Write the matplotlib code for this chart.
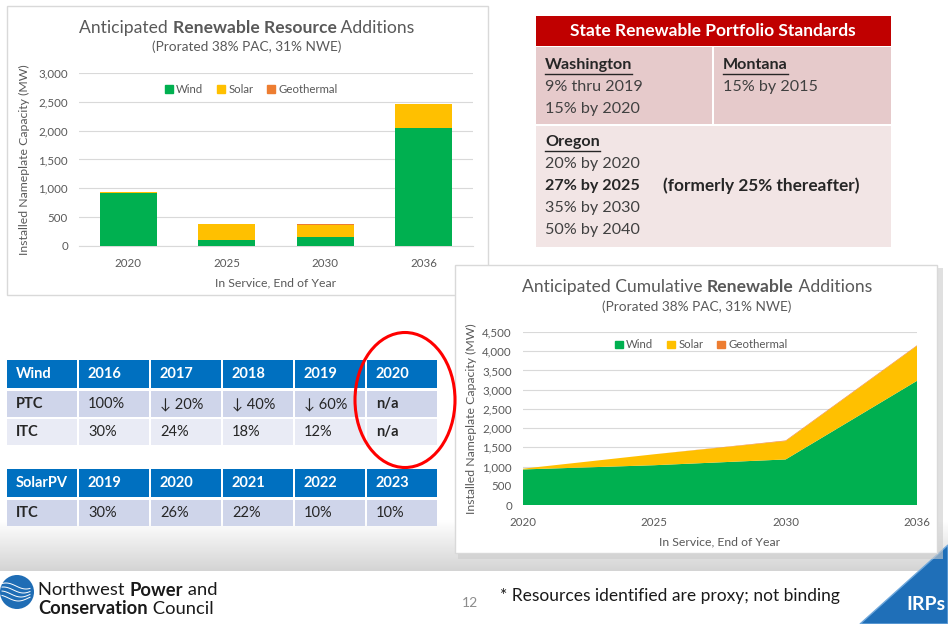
import numpy as np
import matplotlib
matplotlib.use("Agg")
import matplotlib.pyplot as plt
from matplotlib.patches import Rectangle, Ellipse, Polygon, Circle, Patch

# ---------------- data ----------------
years = ['2020', '2025', '2030', '2036']
wind_add = [925, 105, 150, 2050]
solar_add = [20, 275, 210, 410]
geo_add = [0, 0, 15, 0]

wind_cum = [925, 1035, 1185, 3230]
solar_cum = [20, 285, 478, 908]
geo_cum = [0, 0, 15, 15]

series_names = ['Wind', 'Solar', 'Geothermal']
bar_ticks = [0, 500, 1000, 1500, 2000, 2500, 3000]
area_ticks = [0, 500, 1000, 1500, 2000, 2500, 3000, 3500, 4000, 4500]

wind_tbl_head = ['Wind', '2016', '2017', '2018', '2019', '2020']
wind_tbl_rows = [['PTC', '100%', '\u2193 20%', '\u2193 40%', '\u2193 60%', 'n/a'],
                 ['ITC', '30%', '24%', '18%', '12%', 'n/a']]
solar_tbl_head = ['SolarPV', '2019', '2020', '2021', '2022', '2023']
solar_tbl_rows = [['ITC', '30%', '26%', '22%', '10%', '10%']]

GREEN = '#00B050'
YELLOW = '#FFC000'
ORANGE = '#ED7D31'
GRAYTXT = '#595959'
FONT = ['Lato', 'DejaVu Sans']

plt.rcParams['font.family'] = FONT

W, H = 948, 624
fig = plt.figure(figsize=(W / 100, H / 100), dpi=100)
fig.patch.set_facecolor('white')

bg = fig.add_axes([0, 0, 1, 1], zorder=0)
bg.set_xlim(0, W)
bg.set_ylim(H, 0)
bg.axis('off')

renderer = fig.canvas.get_renderer()


def rich(x, y, parts, size, color, ha='center', zorder=10):
    """parts: list of (text, weight). Draw consecutive pieces."""
    objs = []
    widths = []
    for txt, wt in parts:
        t = bg.text(0, y, txt, fontsize=size, color=color, fontweight=wt,
                    ha='left', va='center', zorder=zorder)
        widths.append(t.get_window_extent(renderer).width)
        objs.append(t)
    total = sum(widths)
    x0 = x - total / 2 if ha == 'center' else x
    for t, w in zip(objs, widths):
        t.set_x(x0)
        x0 += w
    return objs


def px_axes(l, t, r, b, z=3):
    return fig.add_axes([l / W, 1 - b / H, (r - l) / W, (b - t) / H], zorder=z)


# ---- bottom gradient band ----
grad = np.linspace(0, 1, 100).reshape(-1, 1)
bg.imshow(grad, extent=[0, W, 571, 520], cmap=matplotlib.colors.LinearSegmentedColormap.from_list(
    'g', ['#FFFFFF', '#D4D4D4']), aspect='auto', zorder=0)

# ---------------- top-left panel ----------------
bg.add_patch(Rectangle((7, 6), 481, 289, facecolor='white', edgecolor='#D9D9D9', lw=1, zorder=1))
rich(247, 28, [('Anticipated ', 'normal'), ('Renewable Resource', 'bold'), (' Additions', 'normal')],
     12.6, GRAYTXT, zorder=2)
bg.text(247, 47, '(Prorated 38% PAC, 31% NWE)', fontsize=9.8, color=GRAYTXT, ha='center', va='center', zorder=2)

ax1 = px_axes(79, 73, 473, 246)
ax1.set_facecolor('none')
x = np.arange(len(years))
bw = 0.58
ax1.bar(x, wind_add, bw, color=GREEN, zorder=3, label='Wind')
ax1.bar(x, solar_add, bw, bottom=wind_add, color=YELLOW, zorder=3, label='Solar')
ax1.bar(x, geo_add, bw, bottom=np.add(wind_add, solar_add), color=ORANGE, zorder=3, label='Geothermal')
ax1.set_xlim(-0.5, 3.5)
ax1.set_ylim(0, 3000)
ax1.set_yticks(bar_ticks)
ax1.set_yticklabels([f'{v:,}' for v in bar_ticks])
ax1.set_xticks(x)
ax1.set_xticklabels(years)
ax1.grid(axis='y', color='#D9D9D9', lw=0.8, zorder=0)
for s in ax1.spines.values():
    s.set_visible(False)
ax1.spines['bottom'].set_visible(True)
ax1.spines['bottom'].set_color('#D9D9D9')
ax1.tick_params(length=0, labelsize=8.3, labelcolor=GRAYTXT, pad=8)
ax1.tick_params(axis='x', pad=9)
ax1.set_xlabel('In Service, End of Year', fontsize=8.8, color=GRAYTXT, labelpad=6)
ax1.set_ylabel('Installed Nameplate Capacity (MW)', fontsize=8.8, color=GRAYTXT, labelpad=6)
h = [Patch(color=c) for c in [GREEN, YELLOW, ORANGE]]
ax1.legend(h, series_names, loc='center', bbox_to_anchor=(0.437, 0.907), ncol=3, frameon=False,
           fontsize=8.2, labelcolor=GRAYTXT, handlelength=0.7, handleheight=0.7, handletextpad=0.3,
           columnspacing=1.2)

# ---------------- RPS table ----------------
bg.add_patch(Rectangle((536, 16), 355, 30, facecolor='#C00000', edgecolor='none', zorder=1))
bg.text(713, 31, 'State Renewable Portfolio Standards', color='white', fontsize=12.5, fontweight='bold',
        ha='center', va='center', zorder=2)
bg.add_patch(Rectangle((536, 47), 176, 77, facecolor='#E6CACB', edgecolor='none', zorder=1))
bg.add_patch(Rectangle((714, 47), 177, 77, facecolor='#E6CACB', edgecolor='none', zorder=1))
bg.add_patch(Rectangle((536, 126), 355, 121, facecolor='#F2E5E5', edgecolor='none', zorder=1))

RPS = '#262626'
rps_fs = 11.6


def ul_text(xx, yy, s):
    t = bg.text(xx, yy, s, fontsize=rps_fs, fontweight='bold', color=RPS, ha='left', va='center', zorder=2)
    w = t.get_window_extent(renderer).width
    bg.plot([xx, xx + w], [yy + 9, yy + 9], color=RPS, lw=1, zorder=2)


ul_text(545, 65, 'Washington')
bg.text(545, 87, '9% thru 2019', fontsize=rps_fs, color='#404040', ha='left', va='center', zorder=2)
bg.text(545, 109, '15% by 2020', fontsize=rps_fs, color='#404040', ha='left', va='center', zorder=2)
ul_text(723, 65, 'Montana')
bg.text(723, 87, '15% by 2015', fontsize=rps_fs, color='#404040', ha='left', va='center', zorder=2)
ul_text(545, 142, 'Oregon')
bg.text(545, 164, '20% by 2020', fontsize=rps_fs, color='#404040', ha='left', va='center', zorder=2)
bg.text(545, 186, '27% by 2025', fontsize=rps_fs, color=RPS, fontweight='bold', ha='left', va='center', zorder=2)
bg.text(663, 186, '(formerly 25% thereafter)', fontsize=12.4, color=RPS, fontweight='bold',
        ha='left', va='center', zorder=2)
bg.text(545, 208, '35% by 2030', fontsize=rps_fs, color='#404040', ha='left', va='center', zorder=2)
bg.text(545, 230, '50% by 2040', fontsize=rps_fs, color='#404040', ha='left', va='center', zorder=2)

# ---------------- area chart panel ----------------
bg.add_patch(Rectangle((458, 268), 485, 291, facecolor='#CCCCCC', edgecolor='none', zorder=3, alpha=0.6))
bg.add_patch(Rectangle((455, 265), 482, 288, facecolor='white', edgecolor='#D9D9D9', lw=1, zorder=4))
rich(697, 287, [('Anticipated Cumulative ', 'normal'), ('Renewable', 'bold'), (' Additions', 'normal')],
     12.6, GRAYTXT, zorder=5)
bg.text(697, 307, '(Prorated 38% PAC, 31% NWE)', fontsize=9.8, color=GRAYTXT, ha='center', va='center', zorder=5)

ax2 = px_axes(523, 332, 917, 505, z=6)
ax2.set_facecolor('none')
ax2.stackplot(x, wind_cum, solar_cum, geo_cum, colors=[GREEN, YELLOW, ORANGE], zorder=3)
ax2.set_xlim(0, 3)
ax2.set_ylim(0, 4500)
ax2.set_yticks(area_ticks)
ax2.set_yticklabels([f'{v:,}' for v in area_ticks])
ax2.set_xticks(x)
ax2.set_xticklabels(years)
ax2.grid(axis='y', color='#D9D9D9', lw=0.8, zorder=0)
for s in ax2.spines.values():
    s.set_visible(False)
ax2.tick_params(length=0, labelsize=8.3, labelcolor=GRAYTXT, pad=8)
ax2.tick_params(axis='x', pad=9)
ax2.set_xlabel('In Service, End of Year', fontsize=8.8, color=GRAYTXT, labelpad=6)
ax2.set_ylabel('Installed Nameplate Capacity (MW)', fontsize=8.8, color=GRAYTXT, labelpad=4)
ax2.legend(h, series_names, loc='center', bbox_to_anchor=(0.452, 0.925), ncol=3, frameon=False,
           fontsize=8.2, labelcolor=GRAYTXT, handlelength=0.7, handleheight=0.7, handletextpad=0.3,
           columnspacing=1.2)

# ---------------- tax-credit tables ----------------
cols = [6, 78, 150, 222, 294, 366, 438]
BLUE = '#0070C0'
ROW_D = '#CFD5EA'
ROW_L = '#E9EBF5'


def draw_table(top, head, rows):
    hh = 30
    rh = 28
    for i in range(6):
        x0, x1 = cols[i], cols[i + 1]
        bg.add_patch(Rectangle((x0 + 1, top), x1 - x0 - 2, hh - 2, facecolor=BLUE, edgecolor='none', zorder=2))
        bg.text(x0 + 10, top + hh / 2 - 1, head[i], color='white', fontweight='bold', fontsize=10.5,
                ha='left', va='center', zorder=3)
        for r, row in enumerate(rows):
            yt = top + hh + r * rh
            fc = ROW_D if r % 2 == 0 else ROW_L
            bg.add_patch(Rectangle((x0 + 1, yt + 1), x1 - x0 - 2, rh - 2, facecolor=fc, edgecolor='none', zorder=2))
            wt = 'bold' if (i == 0 or row[i] == 'n/a') else 'normal'
            bg.text(x0 + 10, yt + rh / 2, row[i], color='#262626', fontweight=wt, fontsize=10.5,
                    ha='left', va='center', zorder=3)


draw_table(360, wind_tbl_head, wind_tbl_rows)
draw_table(469, solar_tbl_head, solar_tbl_rows)

bg.add_patch(Ellipse((405, 400), 100, 135, facecolor='none', edgecolor='#FF0000', lw=2.2, zorder=4))

# ---------------- footer ----------------
bg.add_patch(Circle((17, 592), 17, facecolor='#1F6DB5', edgecolor='none', zorder=2))
tt = np.linspace(-1, 1, 50)
for k, off in enumerate([-6, -2, 2, 6]):
    xs = 2 + (tt + 1) * 14
    ys = 592 + off + 3 * np.sin(tt * 2.2 + k * 0.4)
    bg.plot(xs, ys, color='white', lw=0.7, zorder=3)
rich(38, 590, [('Northwest ', 'normal'), ('Power', 'bold'), (' and', 'normal')], 13.2, '#1A1A1A', ha='left')
rich(38, 609, [('Conservation', 'bold'), (' Council', 'normal')], 13.2, '#1A1A1A', ha='left')
bg.text(470, 603, '12', fontsize=10, color='#8C8C8C', ha='center', va='center', zorder=2)
bg.text(500, 596, '* Resources identified are proxy; not binding', fontsize=12.5, color='#1A1A1A',
        ha='left', va='center', zorder=2)
bg.add_patch(Polygon([(860, 624), (948, 545), (948, 624)], closed=True, facecolor='#1F6FB8',
                     edgecolor='#6FA8DC', lw=1, zorder=2))
bg.text(926, 605, 'IRPs', fontsize=14, color='white', fontweight='bold', ha='center', va='center', zorder=3)

fig.savefig('out.png', dpi=100)
